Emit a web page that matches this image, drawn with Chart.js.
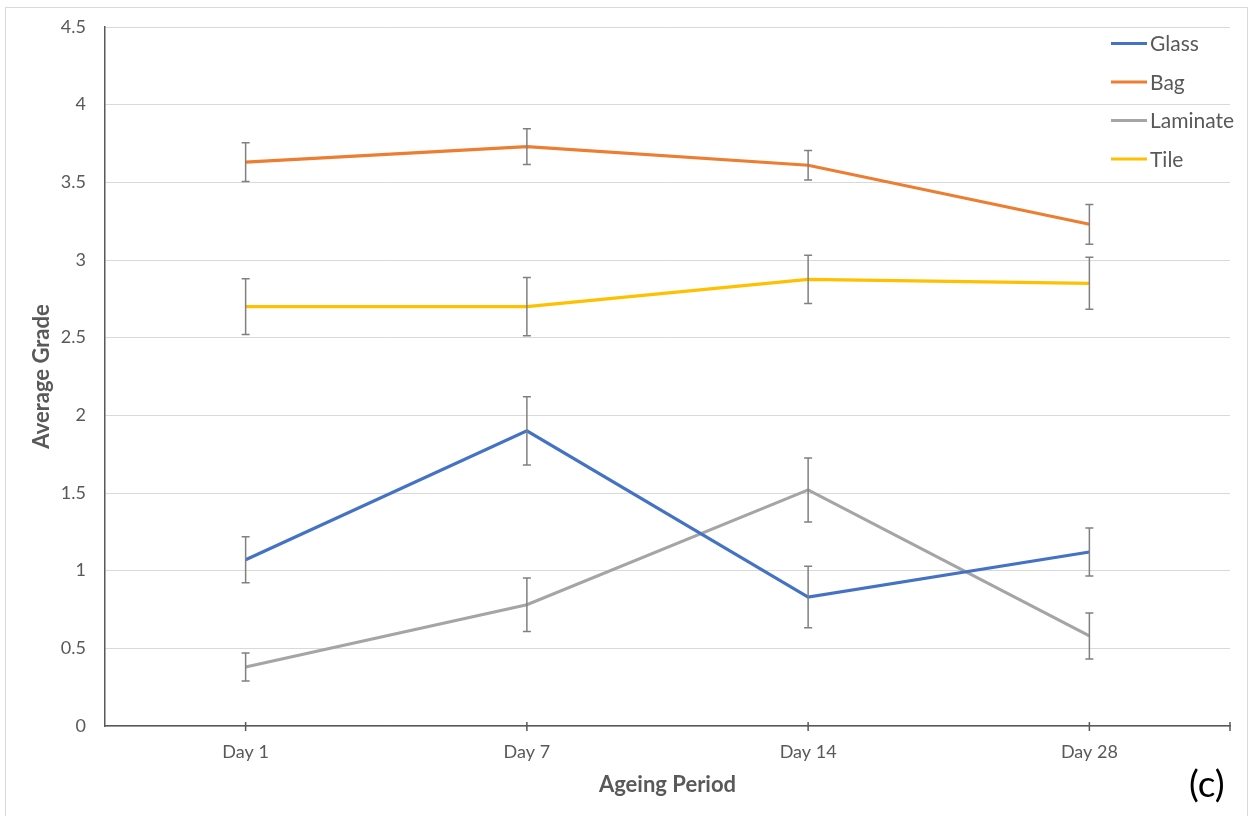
<!DOCTYPE html>
<html>
<head>
<meta charset="utf-8">
<title>Average Grade by Ageing Period</title>
<script src="https://cdn.jsdelivr.net/npm/chart.js@4.4.1/dist/chart.umd.min.js"></script>
<style>
  html, body { margin: 0; padding: 0; background: #ffffff; }
  #wrap { width: 1255px; height: 816px; position: relative; }
</style>
</head>
<body>
<div id="wrap"><canvas id="chart" width="1255" height="816"></canvas></div>
<script>
// Ageing periods on the x axis
const categories = ['Day 1', 'Day 7', 'Day 14', 'Day 28'];

// Average grade per surface
const glass    = [1.07, 1.90, 0.83, 1.12];
const bag      = [3.63, 3.73, 3.61, 3.23];
const laminate = [0.38, 0.78, 1.52, 0.58];
const tile     = [2.70, 2.70, 2.875, 2.85];

// Error bar half-widths (±)
const glassErr    = [0.148, 0.219, 0.198, 0.155];
const bagErr      = [0.125, 0.115, 0.095, 0.128];
const laminateErr = [0.090, 0.172, 0.206, 0.148];
const tileErr     = [0.180, 0.188, 0.155, 0.167];

// Value axis ticks
const yTicks = [0, 0.5, 1, 1.5, 2, 2.5, 3, 3.5, 4, 4.5];

const FONT = 'Lato, "Open Sans", sans-serif';
const TEXT = '#595959';
const AXIS = '#595959';

const seriesDefs = [
  { label: 'Glass',    data: glass,    err: glassErr,    color: '#4472C4' },
  { label: 'Bag',      data: bag,      err: bagErr,      color: '#ED7D31' },
  { label: 'Laminate', data: laminate, err: laminateErr, color: '#A5A5A5' },
  { label: 'Tile',     data: tile,     err: tileErr,     color: '#FFC000' }
];

// Outer frame of the chart
const framePlugin = {
  id: 'frame',
  beforeDraw(chart) {
    const ctx = chart.ctx;
    ctx.save();
    ctx.fillStyle = '#ffffff';
    ctx.fillRect(0, 0, chart.width, chart.height);
    ctx.strokeStyle = '#d9d9d9';
    ctx.lineWidth = 1;
    ctx.strokeRect(5.5, 7.5, chart.width - 13, chart.height + 20);
    ctx.restore();
  }
};

// Vertical error bars with caps, placed through the chart scales
const errorBarPlugin = {
  id: 'errorBars',
  afterDatasetsDraw(chart) {
    const ctx = chart.ctx;
    const xs = chart.scales.x, ys = chart.scales.y;
    ctx.save();
    ctx.strokeStyle = '#808080';
    ctx.lineWidth = 1.5;
    chart.data.datasets.forEach(ds => {
      ds.data.forEach((v, i) => {
        const e = ds.errors[i];
        const x = xs.getPixelForValue(i);
        const yTop = ys.getPixelForValue(v + e);
        const yBot = ys.getPixelForValue(v - e);
        ctx.beginPath();
        ctx.moveTo(x, yTop); ctx.lineTo(x, yBot);
        ctx.moveTo(x - 4, yTop); ctx.lineTo(x + 4, yTop);
        ctx.moveTo(x - 4, yBot); ctx.lineTo(x + 4, yBot);
        ctx.stroke();
      });
    });
    ctx.restore();
  }
};

// Cross tick marks on the category axis, legend and panel tag
const decorPlugin = {
  id: 'decor',
  afterDraw(chart) {
    const ctx = chart.ctx;
    const xs = chart.scales.x;
    const area = chart.chartArea;
    ctx.save();
    ctx.strokeStyle = AXIS;
    ctx.lineWidth = 1.5;
    const marks = categories.map((c, i) => xs.getPixelForValue(i));
    marks.push(area.right);
    ctx.beginPath();
    marks.forEach(x => {
      ctx.moveTo(x, area.bottom - 4);
      ctx.lineTo(x, area.bottom + 5);
    });
    ctx.stroke();

    // legend
    const lx = 1111, ly0 = 43.5, step = 38.5;
    ctx.font = '21px ' + FONT;
    ctx.textBaseline = 'middle';
    ctx.textAlign = 'left';
    chart.data.datasets.forEach((ds, i) => {
      const y = ly0 + i * step;
      ctx.strokeStyle = ds.borderColor;
      ctx.lineWidth = 3;
      ctx.beginPath();
      ctx.moveTo(lx, y);
      ctx.lineTo(lx + 36, y);
      ctx.stroke();
      ctx.fillStyle = TEXT;
      ctx.fillText(ds.label, lx + 39, y + 1);
    });

    // panel tag
    ctx.fillStyle = '#000000';
    ctx.font = '37px ' + FONT;
    ctx.textAlign = 'left';
    ctx.fillText('(c)', 1189, 785);
    ctx.restore();
  }
};

new Chart(document.getElementById('chart'), {
  type: 'line',
  data: {
    labels: categories,
    datasets: seriesDefs.map(s => ({
      label: s.label,
      data: s.data,
      errors: s.err,
      borderColor: s.color,
      backgroundColor: s.color,
      borderWidth: 3.2,
      pointRadius: 0,
      pointHoverRadius: 0,
      tension: 0,
      fill: false
    }))
  },
  options: {
    responsive: false,
    animation: false,
    events: [],
    layout: { padding: { left: 0, top: 27, right: 25, bottom: 0 } },
    plugins: {
      legend: { display: false },
      tooltip: { enabled: false },
      title: { display: false }
    },
    scales: {
      x: {
        type: 'category',
        offset: true,
        grid: { display: false, drawTicks: false },
        border: { display: true, color: AXIS, width: 1.5 },
        ticks: {
          color: TEXT,
          font: { family: FONT, size: 18 },
          padding: 15,
          maxRotation: 0,
          autoSkip: false
        },
        title: {
          display: true,
          text: 'Ageing Period',
          color: TEXT,
          font: { family: FONT, size: 22, weight: 'bold' },
          padding: { top: 0, bottom: 18 }
        },
        afterFit(scale) { scale.height = 90; }
      },
      y: {
        min: 0,
        max: 4.5,
        afterBuildTicks(scale) { scale.ticks = yTicks.map(v => ({ value: v })); },
        grid: {
          color: '#d9d9d9',
          lineWidth: 1,
          drawTicks: true,
          tickLength: 19,
          tickColor: 'rgba(0,0,0,0)'
        },
        border: { display: true, color: AXIS, width: 1.5 },
        ticks: {
          color: TEXT,
          font: { family: FONT, size: 18 },
          padding: 0,
          callback: v => String(v)
        },
        title: {
          display: true,
          text: 'Average Grade',
          color: TEXT,
          font: { family: FONT, size: 22, weight: 'bold' },
          padding: { top: 29, bottom: 0 }
        },
        afterFit(scale) { scale.width = 105; }
      }
    }
  },
  plugins: [framePlugin, errorBarPlugin, decorPlugin]
});
</script>
</body>
</html>
